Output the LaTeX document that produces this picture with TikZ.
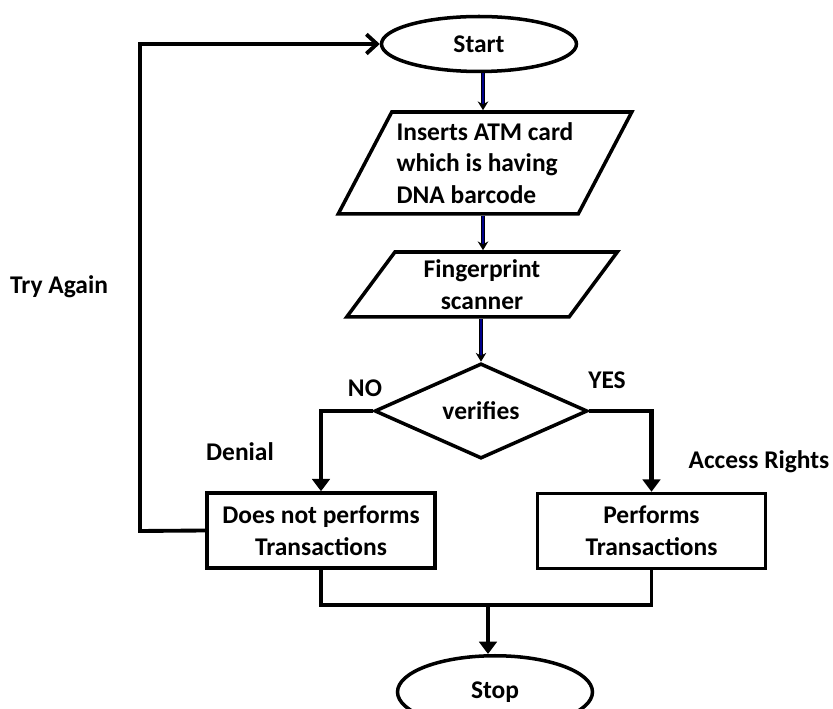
\documentclass[tikz,border=0pt]{standalone}
\usepackage{fontspec}
\setmainfont{Carlito}
\usetikzlibrary{arrows.meta,shapes.geometric}

\tikzset{
	box/.style={draw, line width=2pt, align=center, inner sep=0pt, font=\fontsize{14.5}{18}\selectfont\bfseries},
	term/.style={box, ellipse, minimum width=3.9cm},
	io/.style={box, trapezium, trapezium stretches=true},
	proc/.style={box, rectangle, minimum width=4.56cm, minimum height=1.5cm},
	dec/.style={box, diamond, minimum width=4.26cm, minimum height=1.84cm},
	lbl/.style={font=\fontsize{14.5}{18}\selectfont\bfseries, inner sep=0pt},
	flow/.style={draw=black, line width=0.8pt, double=blue!55!black, double distance=1pt, -{Stealth[length=5pt,width=6pt]}},
	branch/.style={line width=2.6pt, -{Triangle[length=7pt,width=10pt]}},
	joinline/.style={line width=1.8pt},
}

\begin{document}
\begin{tikzpicture}[x=0.02cm, y=-0.02cm]
			%%%%% FRAME %%%%%
			\useasboundingbox (0, 0) rectangle (833, 709);
			\clip (0, 0) rectangle (833, 709);
			
			%%%%% SHAPES %%%%%
			\node[term, minimum height=1.1cm] (start) at (479, 44) {Start};
			\node[io, minimum width=5.88cm, minimum height=2.04cm, trapezium left angle=58, trapezium right angle=122, align=left] (card) at (485, 163) {Inserts ATM card\\which is having\\DNA barcode};
			\node[io, minimum width=5.42cm, minimum height=1.3cm, trapezium left angle=57, trapezium right angle=123] (scan) at (482, 284.5) {Fingerprint\\scanner};
			\node[dec] (check) at (481, 411) {verifies};
			\node[proc] (deny) at (321, 530.5) {Does not performs\\Transactions};
			\node[proc] (grant) at (651.5, 531) {Performs\\Transactions};
			\node[term, minimum height=1.45cm] (stop) at (495, 692) {Stop};
			
			%%%%% LABELS %%%%%
			\node[lbl] (no) at (365, 388) {NO};
			\node[lbl] (yes) at (607, 380) {YES};
			\node[lbl] (denial) at (240, 452) {Denial};
			\node[lbl] (rights) at (759, 462) {Access Rights};
			\node[lbl] (again) at (59, 287) {Try Again};
			
			%%%%% ARROWS %%%%%
			\draw[flow] (start.south -| 483, 0) -- (card.north -| 483, 0);
			\draw[flow] (card.south -| 483, 0) -- (scan.north -| 483, 0);
			\draw[flow] (check.north |- scan.south) -- (check.north);
			
			\draw[branch] (check.west) -| (deny.north);
			\draw[branch] (check.east) -| (grant.north);
			
			\coordinate (back) at (140, 531);
			\draw[line width=2.2pt, -{Straight Barb[length=6pt,width=11pt]}] (deny.west) -- (back) |- (start.west);
			
			\coordinate (meet) at (488, 605);
			\draw[joinline] (deny.south) |- (meet) -| (grant.south);
			\draw[branch] (meet) -- (meet |- stop.north);
			
			%%%%% END %%%%%
		\end{tikzpicture}
\end{document}
